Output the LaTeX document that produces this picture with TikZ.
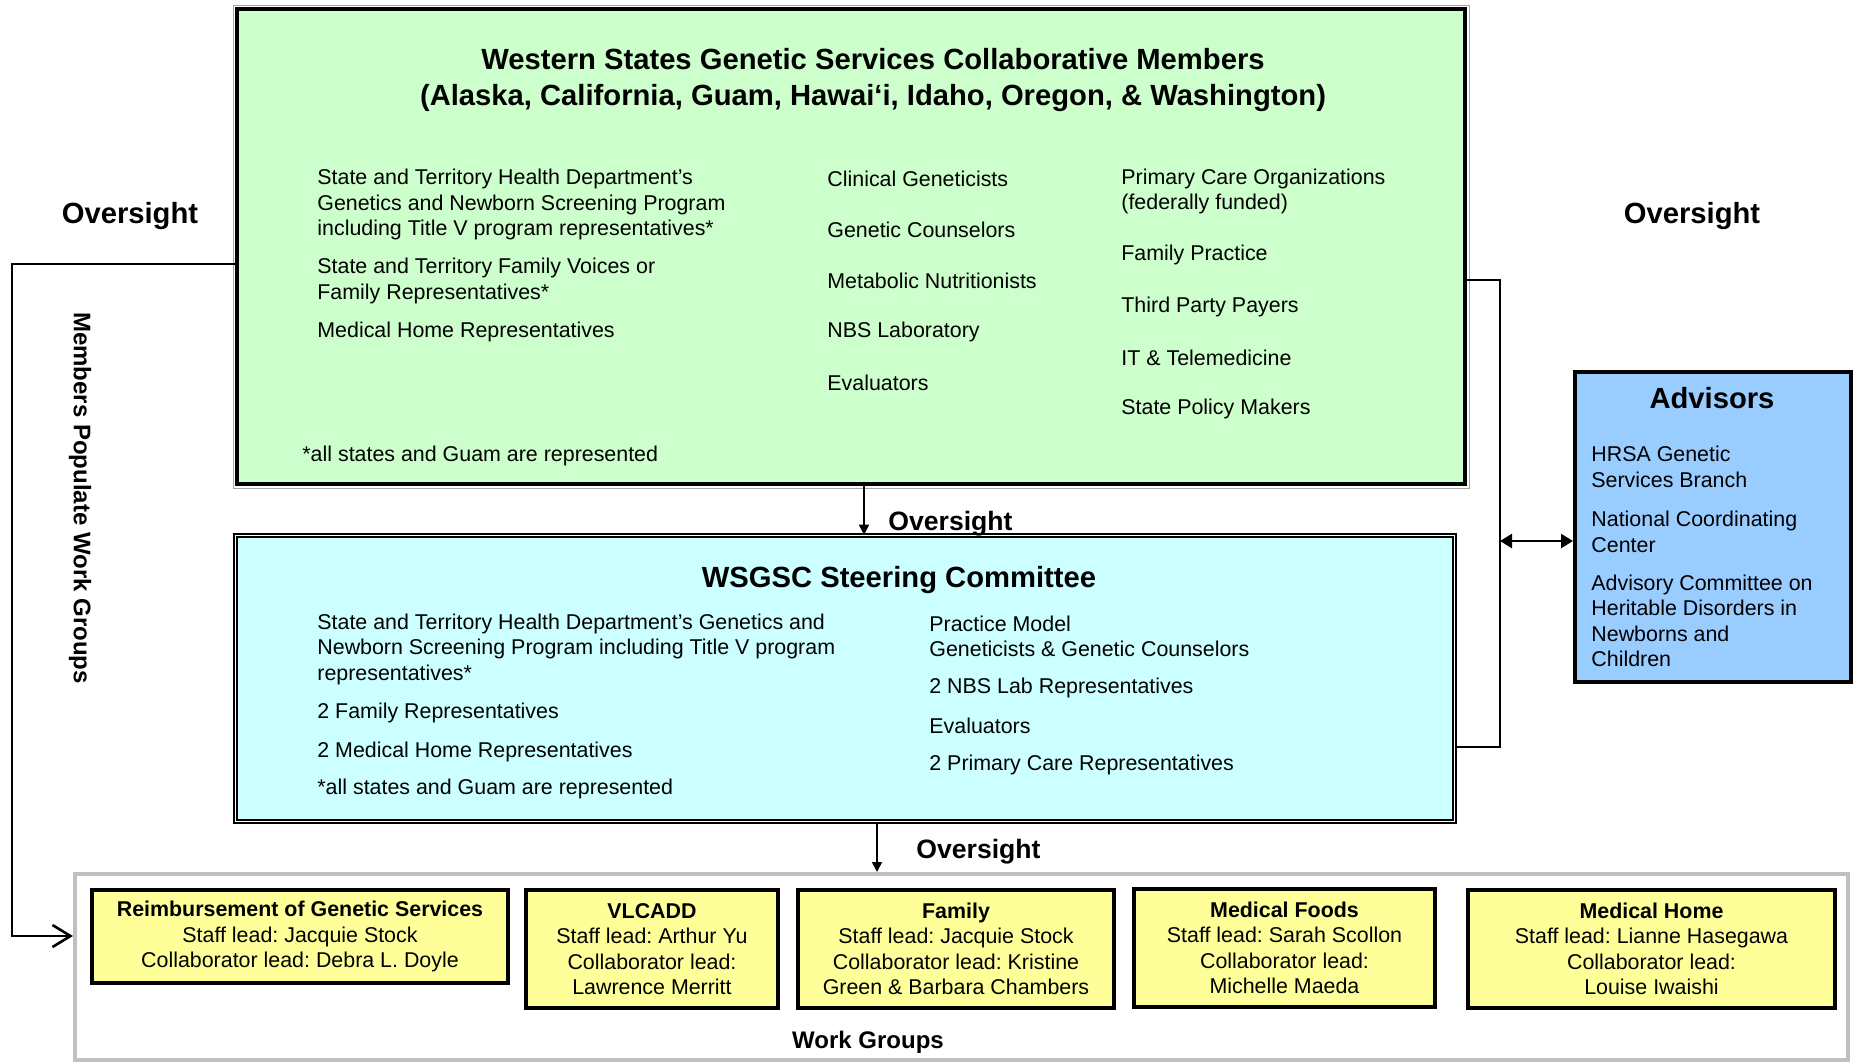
\documentclass[tikz,border=0pt]{standalone}
\usepackage{fontspec}
\setmainfont{Liberation Sans}
\usetikzlibrary{arrows.meta}
\frenchspacing

\definecolor{membersgreen}{HTML}{CCFFCC}
\definecolor{steercyan}{HTML}{CCFFFF}
\definecolor{advisorblue}{HTML}{99CCFF}
\definecolor{groupyellow}{HTML}{FFFF99}
\definecolor{framegray}{HTML}{C0C0C0}

\newcommand{\bigbold}{\fontsize{14.6}{18}\selectfont\bfseries}
\newcommand{\midbold}{\fontsize{13.3}{16}\selectfont\bfseries}
\newcommand{\smallbold}{\fontsize{12}{14}\selectfont\bfseries}

\begin{document}
\begin{tikzpicture}[
  x=0.5pt, y=-0.5pt,
  every node/.style={inner sep=0pt, font=\fontsize{10.7}{12.75}\selectfont},
  item/.style={anchor=west, align=left, yshift=-1.1pt},
  heading/.style={yshift=-1.7pt},
  membersbox/.style={draw, line width=2pt, fill=membersgreen,
    minimum width=614pt, minimum height=237.5pt},
  steerbox/.style={draw, line width=0.8pt, double=white, double distance=0.8pt,
    fill=steercyan, minimum width=609.6pt, minimum height=143pt},
  advbox/.style={draw, line width=2pt, fill=advisorblue,
    minimum width=138pt, minimum height=155pt},
  framebox/.style={draw=framegray, line width=2pt,
    minimum width=886.5pt, minimum height=93pt},
  groupbox/.style={draw, line width=1.8pt, fill=groupyellow, align=center,
    minimum height=59pt},
  link/.style={line width=1.3pt},
  downlink/.style={line width=0.9pt, -{Triangle[length=5pt,width=5pt]}}
]
  \useasboundingbox (0,0) rectangle (1854,1062);

  % main boxes
  \node[membersbox] (members) at (851,246.5) {};
  \draw[gray!70] ([shift={(-2,-2)}]members.north west) rectangle ([shift={(2,2)}]members.south east);
  \node[steerbox] (steer) at (845,678.5) {};
  \node[advbox] (advisors) at (1713,527) {};
  \node[framebox] (wgframe) at (961.5,967) {};

  % members
  \node[heading, font=\bigbold, align=center] (memberstitle) at (873,77)
    {Western States Genetic Services Collaborative Members\\(Alaska, California, Guam, Hawai‘i, Idaho, Oregon, \& Washington)};
  \node[item] (mhealth) at (317,202.5) {State and Territory Health Department’s\\Genetics and Newborn Screening Program\\including Title V program representatives*};
  \node[item] (mfamily) at (317,279) {State and Territory Family Voices or\\Family Representatives*};
  \node[item] (mhome) at (317,330) {Medical Home Representatives};
  \node[item] (mnote) at (302,454) {*all states and Guam are represented};
  \node[item] (mclin) at (827,177) {Clinical Geneticists};
  \node[item] (mcouns) at (827,228) {Genetic Counselors};
  \node[item] (mnutr) at (827,279) {Metabolic Nutritionists};
  \node[item] (mlab) at (827,330) {NBS Laboratory};
  \node[item] (meval) at (827,381) {Evaluators};
  \node[item] (mprim) at (1121,189.5) {Primary Care Organizations\\(federally funded)};
  \node[item] (mpract) at (1121,253) {Family Practice};
  \node[item] (mpayer) at (1121,305) {Third Party Payers};
  \node[item] (mtele) at (1121,356) {IT \& Telemedicine};
  \node[item] (mpolicy) at (1121,407) {State Policy Makers};

  % steering committee
  \node[heading, font=\bigbold] (steertitle) at (899,577) {WSGSC Steering Committee};
  \node[item] (shealth) at (317,647) {State and Territory Health Department’s Genetics and\\Newborn Screening Program including Title V program\\representatives*};
  \node[item] (sfamily) at (317,711) {2 Family Representatives};
  \node[item] (shome) at (317,750) {2 Medical Home Representatives};
  \node[item] (snote) at (317,787) {*all states and Guam are represented};
  \node[item] (smodel) at (929,634) {Practice Model\\Geneticists \& Genetic Counselors};
  \node[item] (slab) at (929,686) {2 NBS Lab Representatives};
  \node[item] (seval) at (929,724) {Evaluators};
  \node[item] (sprim) at (929,763) {2 Primary Care Representatives};

  % advisors
  \node[font=\bigbold] (advtitle) at (1712,398) {Advisors};
  \node[item, yshift=0.6pt] (ahrsa) at (1591,466) {HRSA Genetic\\Services Branch};
  \node[item, yshift=0.6pt] (ancc) at (1591,531) {National Coordinating\\Center};
  \node[item, yshift=0.6pt] (aacc) at (1591,620) {Advisory Committee on\\Heritable Disorders in\\Newborns and\\Children};

  % work groups
  \node[groupbox, minimum width=208pt, minimum height=46.5pt] (reimb) at (300,936.5)
    {\textbf{Reimbursement of Genetic Services}\\Staff lead: Jacquie Stock\\Collaborator lead: Debra L. Doyle};
  \node[groupbox, minimum width=126pt] (vlcadd) at (652,949)
    {\textbf{VLCADD}\\Staff lead: Arthur Yu\\Collaborator lead:\\Lawrence Merritt};
  \node[groupbox, minimum width=158pt] (family) at (956,949)
    {\textbf{Family}\\Staff lead: Jacquie Stock\\Collaborator lead: Kristine\\Green \& Barbara Chambers};
  \node[groupbox, minimum width=150.5pt] (foods) at (1284.5,948)
    {\textbf{Medical Foods}\\Staff lead: Sarah Scollon\\Collaborator lead:\\Michelle Maeda};
  \node[groupbox, minimum width=183.5pt] (mhomewg) at (1651.5,949)
    {\textbf{Medical Home}\\Staff lead: Lianne Hasegawa\\Collaborator lead:\\Louise Iwaishi};
  \node[heading, font=\smallbold] (wglabel) at (868,1039) {Work Groups};

  % labels
  \node[heading, font=\bigbold] (ovleft) at (130,213) {Oversight};
  \node[heading, font=\bigbold] (ovright) at (1692,213) {Oversight};
  \node[heading, font=\midbold, anchor=west] (ovsteer) at (888,520) {Oversight};
  \node[heading, font=\midbold, anchor=west] (ovgroups) at (916,848) {Oversight};
  \node[font=\smallbold, rotate=-90] (populate) at (80,498) {Members Populate Work Groups};

  % connectors
  \coordinate (lbend) at (12,264);
  \coordinate (rbend) at (1500,280);
  \coordinate (rlow) at (1500,747);
  \coordinate (rmid) at (1500,541);
  \draw[link, -{Straight Barb[length=9pt,width=11pt]}] (members.west |- lbend) -- (lbend) |- (wgframe.west |- 0,936);
  \draw[link] (members.east |- rbend) -- (rbend) -- (rlow) -- (steer.east |- rlow);
  \draw[link, {Triangle[length=6pt,width=7pt]}-{Triangle[length=6pt,width=7pt]}] (rmid) -- (advisors.west |- rmid);
  \draw[downlink] (members.south -| 864,0) -- (steer.north -| 864,0);
  \draw[downlink] (steer.south -| 877,0) -- (wgframe.north -| 877,0);
\end{tikzpicture}
\end{document}
